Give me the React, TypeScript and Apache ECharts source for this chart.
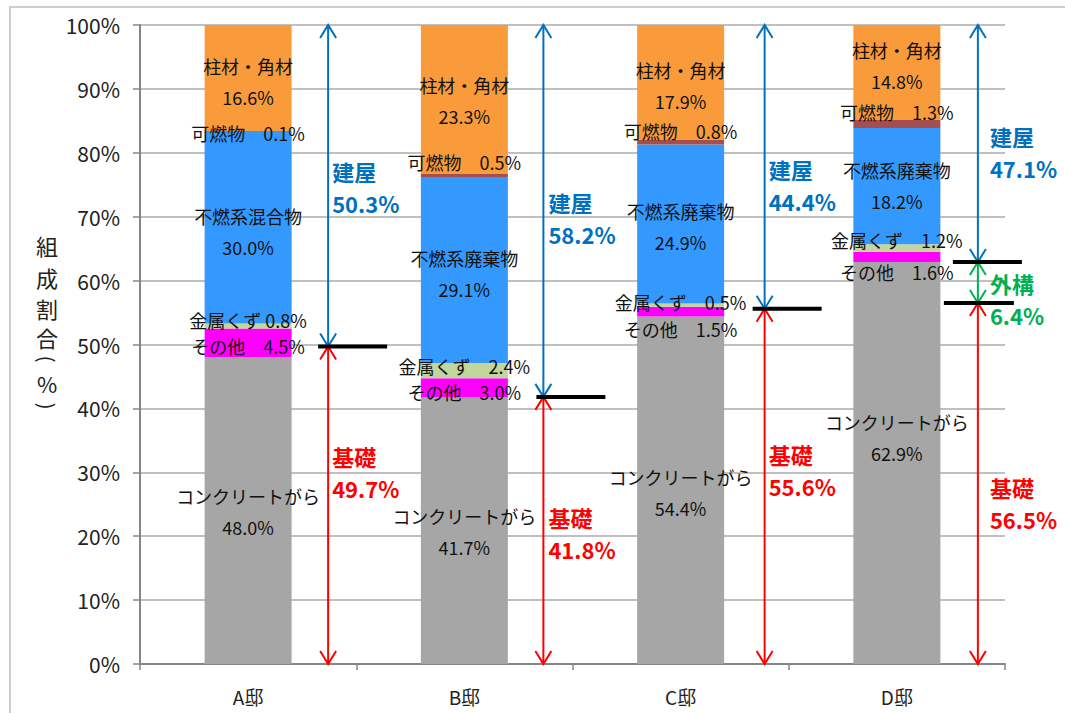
import React, { useEffect, useRef } from 'react';
import * as echarts from 'echarts';

// ---- data ----
const categories = ['A邸', 'B邸', 'C邸', 'D邸'];
const concreteRubble = [48.0, 41.7, 54.4, 62.9];
const otherWaste = [4.5, 3.0, 1.5, 1.6];
const metalScrap = [0.8, 2.4, 0.5, 1.2];
const nonCombustible = [30.0, 29.1, 24.9, 18.2];
const combustible = [0.1, 0.5, 0.8, 1.3];
const timber = [16.6, 23.3, 17.9, 14.8];
const nonCombustibleNames = ['不燃系混合物', '不燃系廃棄物', '不燃系廃棄物', '不燃系廃棄物'];

const buildingShare = [50.3, 58.2, 44.4, 47.1]; // 建屋
const foundationShare = [49.7, 41.8, 55.6, 56.5]; // 基礎
const exteriorShare = [0, 0, 0, 6.4]; // 外構

// ---- layout (pixel nudges / annotation placement) ----
const arrowDx = [80, 79, 84, 81];
const textDx = [84, 84, 88, 93];
const upperBarDx = [[70, 139], [72, 141], [72, 141], [56, 125]];
const lowerBarDx = [[0, 0], [0, 0], [0, 0], [47, 117]];
const buildingTextAt = [74.6, 69.8, 75.0, 80.1];
const foundationTextAt = [30.0, 20.5, 30.4, 25.2];
const exteriorTextAt = [0, 0, 0, 57.1];

const FONT = '"Noto Sans CJK JP", "Noto Sans", sans-serif';

type Seg = {
  name: string;
  values: number[];
  color: string;
  twoLine: boolean;
  shift: number[];
  labelNames?: string[];
  sep?: string[];
};

const segments: Seg[] = [
  { name: 'コンクリートがら', values: concreteRubble, color: '#A6A6A6', twoLine: true, shift: [1, 1, 2, -26] },
  { name: 'その他', values: otherWaste, color: '#FF00FF', twoLine: false, shift: [3, 4, 17, 15] },
  { name: '金属くず', values: metalScrap, color: '#C3D69B', twoLine: false, shift: [-6, -5, -3, -8], sep: [' ', '\u3000', '\u3000', '\u3000'] },
  { name: '不燃系廃棄物', values: nonCombustible, color: '#3399FF', twoLine: true, shift: [4, 3, 2, -1], labelNames: nonCombustibleNames },
  { name: '可燃物', values: combustible, color: '#A64D4D', twoLine: false, shift: [2, -13, -11, -12] },
  { name: '柱材・角材', values: timber, color: '#F99B3A', twoLine: true, shift: [3, 1, 3, -7] },
];

export default function App() {
  const ref = useRef<HTMLDivElement>(null);

  useEffect(() => {
    if (!ref.current) return;
    const chart = echarts.init(ref.current, null, { renderer: 'svg' });

    const barSeries = segments.map((s) => ({
      name: s.name,
      type: 'bar',
      stack: 'total',
      barWidth: 87,
      itemStyle: { color: s.color },
      z: 2,
      data: s.values.map((v, i) => {
        const nm = s.labelNames ? s.labelNames[i] : s.name;
        const sep = s.sep ? s.sep[i] : '\u3000';
        const txt = s.twoLine ? `${nm}\n${v.toFixed(1)}%` : `${nm}${sep}${v.toFixed(1)}%`;
        return {
          value: v,
          label: {
            show: true,
            position: 'inside',
            offset: [0, s.shift[i]],
            formatter: txt,
            color: '#111',
            fontSize: 18,
            fontFamily: FONT,
            lineHeight: s.twoLine ? 31 : 20,
          },
        };
      }),
    }));

    const H = 8;
    const L = 13;

    const annotation = {
      type: 'custom',
      silent: true,
      z: 5,
      clip: false,
      data: categories.map((_, i) => [i, 100]),
      encode: { x: 0, y: 1 },
      renderItem: (params: any, api: any) => {
        const i = params.dataIndex;
        const [cx, y0] = api.coord([i, 0]);
        const yTop = api.coord([i, 100])[1];
        const yBase = api.coord([i, foundationShare[i]])[1];
        const hasExt = exteriorShare[i] > 0;
        const yExt = api.coord([i, foundationShare[i] + exteriorShare[i]])[1];
        const ax = cx + arrowDx[i];
        const children: any[] = [];
        const arrow = (y1: number, y2: number, color: string) => {
          children.push({ type: 'line', shape: { x1: ax, y1, x2: ax, y2 }, style: { stroke: color, lineWidth: 2 } });
          children.push({
            type: 'polyline',
            shape: { points: [[ax - H, y1 + L], [ax, y1], [ax + H, y1 + L]] },
            style: { stroke: color, lineWidth: 2, fill: 'none' },
          });
          children.push({
            type: 'polyline',
            shape: { points: [[ax - H, y2 - L], [ax, y2], [ax + H, y2 - L]] },
            style: { stroke: color, lineWidth: 2, fill: 'none' },
          });
        };
        arrow(yTop, yExt, '#0070C0');
        arrow(yBase, y0, '#FF0000');
        if (hasExt) arrow(yExt, yBase, '#00B050');

        children.push({
          type: 'line',
          shape: { x1: cx + upperBarDx[i][0], y1: yExt, x2: cx + upperBarDx[i][1], y2: yExt },
          style: { stroke: '#000', lineWidth: 4 },
        });
        if (hasExt) {
          children.push({
            type: 'line',
            shape: { x1: cx + lowerBarDx[i][0], y1: yBase, x2: cx + lowerBarDx[i][1], y2: yBase },
            style: { stroke: '#000', lineWidth: 4 },
          });
        }
        const tx = cx + textDx[i];
        const addText = (title: string, value: number, atValue: number, color: string) => {
          const yc = api.coord([i, atValue])[1];
          [title, `${value.toFixed(1)}%`].forEach((t, k) => {
            children.push({
              type: 'text',
              style: {
                text: t,
                x: tx,
                y: yc + (k === 0 ? -16 : 16),
                fill: color,
                font: `bold 22px ${FONT}`,
                textAlign: 'left',
                textVerticalAlign: 'middle',
              },
            });
          });
        };
        addText('建屋', buildingShare[i], buildingTextAt[i], '#0070C0');
        addText('基礎', foundationShare[i], foundationTextAt[i], '#FF0000');
        if (hasExt) addText('外構', exteriorShare[i], exteriorTextAt[i], '#00B050');
        return { type: 'group', children };
      },
    };

    // vertical axis title: 組成割合(%) with rotated parentheses
    const nameChars = ['組', '成', '割', '合', '(', '%', ')'];
    const nameYs = [245, 277, 308, 337, 359, 383, 406];
    const nameRot = [0, 0, 0, 0, -Math.PI / 2, 0, -Math.PI / 2];

    chart.setOption({
      animation: false,
      textStyle: { fontFamily: FONT },
      grid: { left: 140, right: 60, top: 25, bottom: 49, containLabel: false },
      xAxis: {
        type: 'category',
        data: categories,
        axisLine: { show: true, lineStyle: { color: '#868686', width: 2 } },
        axisTick: { show: true, length: 6, lineStyle: { color: '#868686', width: 1.5 } },
        axisLabel: { color: '#222', fontSize: 19, margin: 23, fontFamily: FONT },
        splitLine: { show: false },
      },
      yAxis: {
        type: 'value',
        min: 0,
        max: 100,
        interval: 10,
        axisLine: { show: true, lineStyle: { color: '#868686', width: 2 } },
        axisTick: { show: true, length: 7, lineStyle: { color: '#868686', width: 1.5 } },
        axisLabel: { formatter: '{value}%', color: '#222', fontSize: 21, margin: 20, fontFamily: FONT },
        splitLine: { show: true, lineStyle: { color: '#ABABAB', width: 1.5 } },
      },
      graphic: [
        {
          type: 'rect',
          shape: { x: 10, y: 7, width: 1300, height: 900 },
          style: { fill: 'none', stroke: '#BFBFBF', lineWidth: 1.5 },
          silent: true,
          z: -10,
        },
        ...nameChars.map((c, k) => ({
          type: 'text',
          x: 47,
          y: nameYs[k],
          rotation: nameRot[k],
          style: {
            text: c,
            fill: '#222',
            font: `${nameRot[k] ? 20 : 22}px ${FONT}`,
            textAlign: 'center',
            textVerticalAlign: 'middle',
            lineHeight: 20,
          },
          silent: true,
        })),
      ],
      series: [...barSeries, annotation],
    });

    return () => chart.dispose();
  }, []);

  return (
    <div
      ref={ref}
      style={{ position: 'fixed', left: 0, top: 0, width: 1065, height: 713, background: '#fff' }}
    />
  );
}
